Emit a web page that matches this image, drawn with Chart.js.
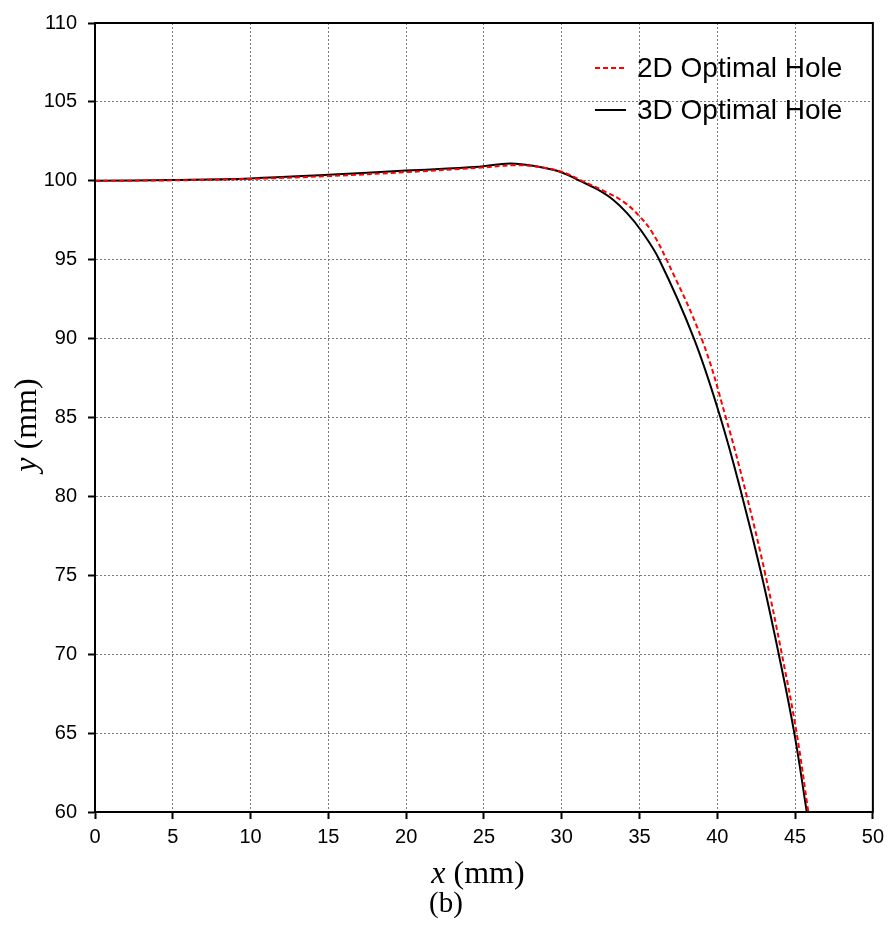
<!DOCTYPE html>
<html>
<head>
<meta charset="utf-8">
<script src="https://cdn.jsdelivr.net/npm/chart.js@4.4.1/dist/chart.umd.min.js"></script>
<style>
  html, body { margin: 0; padding: 0; background: #fff; }
  #wrap { width: 890px; height: 928px; position: relative; }
</style>
</head>
<body>
<div id="wrap"><canvas id="chart" width="890" height="928"></canvas></div>
<script>
// x / y of the 3D optimal hole (mm)
const x3d = [0, 5, 10, 15, 20, 24.7, 26.7, 28.6, 30, 31.17, 32.3, 33.3, 34.2, 35.1, 36.27, 38.5, 40.2, 41.6, 42.85, 43.95, 44.95, 45.75];
const y3d = [100.0, 100.05, 100.15, 100.38, 100.65, 100.89, 101.1, 100.87, 100.53, 100.0, 99.45, 98.8, 97.95, 96.85, 95.0, 90, 85, 80, 75, 70, 65, 60];

// x / y of the 2D optimal hole (mm)
const x2d = [0, 5, 10, 15, 20, 24.7, 27, 28.5, 30, 31.3, 32.88, 34, 35, 35.77, 36.74, 38.99, 40.55, 41.9, 43.1, 44.15, 45.1, 45.85];
const y2d = [100.0, 100.03, 100.12, 100.3, 100.55, 100.83, 100.99, 100.88, 100.57, 100.0, 99.27, 98.65, 97.75, 96.8, 95.0, 90, 85, 80, 75, 70, 65, 60];

const seriesNames = ['2D Optimal Hole', '3D Optimal Hole'];
const xMin = 0, xMax = 50, xStep = 5;
const yMin = 60, yMax = 110, yStep = 5;

function pairs(xs, ys) {
    return xs.map((x, i) => ({ x: x, y: ys[i] }));
}

const tickFont = { family: 'Liberation Sans, Arial, sans-serif', size: 20 };
const gridStyle = {
    color: '#7a7a7a',
    lineWidth: 1,
    tickLength: 7,
    tickColor: '#000',
    tickWidth: 2,
    tickBorderDash: []
};

// frame, axis titles and legend drawn by hand
const decorations = {
    id: 'decorations',
    afterDatasetsDraw(chart) {
        const ctx = chart.ctx;
        const a = chart.chartArea;
        ctx.save();
        ctx.strokeStyle = '#000';
        ctx.lineWidth = 2;
        ctx.setLineDash([]);
        ctx.strokeRect(a.left, a.top, a.right - a.left, a.bottom - a.top);

        // legend
        const ds = chart.data.datasets;
        const rows = [68, 110];
        ctx.font = '28px "Liberation Sans", Arial, sans-serif';
        ctx.textBaseline = 'middle';
        ctx.fillStyle = '#000';
        ds.forEach((d, i) => {
            ctx.beginPath();
            ctx.strokeStyle = d.borderColor;
            ctx.lineWidth = d.borderWidth;
            ctx.setLineDash(d.borderDash || []);
            ctx.moveTo(595, rows[i]);
            ctx.lineTo(626, rows[i]);
            ctx.stroke();
            ctx.fillText(d.label, 637, rows[i] + 1);
        });
        ctx.setLineDash([]);

        // axis titles
        ctx.fillStyle = '#000';
        ctx.textBaseline = 'alphabetic';
        ctx.textAlign = 'left';
        const serif = '"Liberation Serif", "Times New Roman", serif';
        ctx.font = 'italic 32px ' + serif;
        const xw = ctx.measureText('x').width;
        ctx.font = '32px ' + serif;
        const rw = ctx.measureText(' (mm)').width;
        let sx = 478 - (xw + rw) / 2;
        ctx.font = 'italic 32px ' + serif;
        ctx.fillText('x', sx, 883);
        ctx.font = '32px ' + serif;
        ctx.fillText(' (mm)', sx + xw, 883);

        ctx.font = '29px ' + serif;
        ctx.textAlign = 'center';
        ctx.fillText('(b)', 446, 912);

        ctx.translate(36, 425);
        ctx.rotate(-Math.PI / 2);
        ctx.textAlign = 'left';
        ctx.font = 'italic 32px ' + serif;
        const yw = ctx.measureText('y').width;
        ctx.fillText('y', -(yw + rw) / 2, 0);
        ctx.font = '32px ' + serif;
        ctx.fillText(' (mm)', -(yw + rw) / 2 + yw, 0);
        ctx.restore();
    }
};

const ctx = document.getElementById('chart').getContext('2d');
const chart = new Chart(ctx, {
    type: 'scatter',
    data: {
        datasets: [
            {
                label: seriesNames[0],
                data: pairs(x2d, y2d),
                showLine: true,
                borderColor: '#ff0000',
                borderWidth: 2,
                borderDash: [5, 3],
                pointRadius: 0,
                tension: 0.4,
                order: 1
            },
            {
                label: seriesNames[1],
                data: pairs(x3d, y3d),
                showLine: true,
                borderColor: '#000000',
                borderWidth: 2,
                pointRadius: 0,
                tension: 0.4,
                order: 2
            }
        ]
    },
    options: {
        responsive: false,
        animation: false,
        layout: { padding: { left: 0, right: 17, top: 20, bottom: 0 } },
        plugins: {
            legend: { display: false },
            tooltip: { enabled: false }
        },
        scales: {
            x: {
                type: 'linear',
                min: xMin,
                max: xMax,
                ticks: { stepSize: xStep, color: '#000', font: tickFont, padding: 6, maxRotation: 0 },
                grid: gridStyle,
                border: { display: true, color: '#000', width: 2, dash: [2, 2] },
                afterFit(scale) { scale.height = 116; }
            },
            y: {
                type: 'linear',
                min: yMin,
                max: yMax,
                ticks: { stepSize: yStep, color: '#000', font: tickFont, padding: 11 },
                grid: gridStyle,
                border: { display: true, color: '#000', width: 2, dash: [2, 2] },
                afterFit(scale) { scale.width = 95; }
            }
        }
    },
    plugins: [decorations]
});
</script>
</body>
</html>
